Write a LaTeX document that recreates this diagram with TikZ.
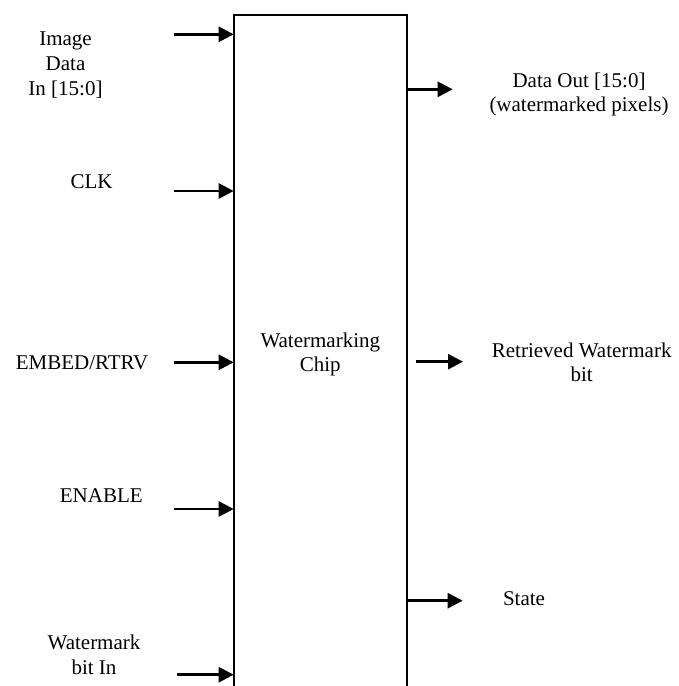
\documentclass[tikz,border=0pt]{standalone}
\usepackage{fontspec}
\setmainfont{Liberation Serif}
\usetikzlibrary{arrows.meta}
\begin{document}
\begin{tikzpicture}[x=1pt,y=-1pt,
  lbl/.style={font=\fontsize{21}{24.7}\selectfont, inner sep=0pt, align=center, anchor=base},
  sig/.style={line width=2.6pt, -{Triangle[length=15pt,width=15pt]}},
  chipbox/.style={draw, line width=2pt, minimum width=173.3pt, minimum height=700pt, inner sep=0pt, outer sep=0pt, anchor=north west}]
\useasboundingbox (0,0) rectangle (679,686);
\node[chipbox] (chip) at (233.7,14.7) {};
% inputs
\coordinate (i1) at (174,34.3);
\coordinate (i2) at (174,191);
\coordinate (i3) at (174,362.3);
\coordinate (i4) at (174,509);
\coordinate (i5) at (177,674.7);
\draw[sig] (i1) -- (chip.west |- i1);
\draw[sig] (i2) -- (chip.west |- i2);
\draw[sig] (i3) -- (chip.west |- i3);
\draw[sig] (i4) -- (chip.west |- i4);
\draw[sig] (i5) -- (chip.west |- i5);
% outputs
\coordinate (o1) at (452.7,89.3);
\coordinate (o2s) at (416,361.7);
\coordinate (o2) at (463,361.7);
\coordinate (o3) at (462.7,600.7);
\draw[sig] (chip.east |- o1) -- (o1);
\draw[sig] (o2s) -- (o2);
\draw[sig] (chip.east |- o3) -- (o3);
% labels (multi-line nodes: base = last line's baseline)
\node[lbl] (limg) at (65.5,95) {Image\\Data\\In [15:0]};
\node[lbl] (lclk) at (91.5,188) {CLK};
\node[lbl] (lemb) at (82,369) {EMBED/RTRV};
\node[lbl] (lena) at (101.3,502) {ENABLE};
\node[lbl] (lwm) at (94,674) {Watermark\\bit In};
\node[lbl] (lchip) at (320.3,371.7) {Watermarking\\Chip};
\node[lbl] (lout) at (579,111.7) {Data Out [15:0]\\(watermarked pixels)};
\node[lbl] (lret) at (581.7,381.7) {Retrieved Watermark\\bit};
\node[lbl] (lst) at (524,605) {State};
\end{tikzpicture}
\end{document}
